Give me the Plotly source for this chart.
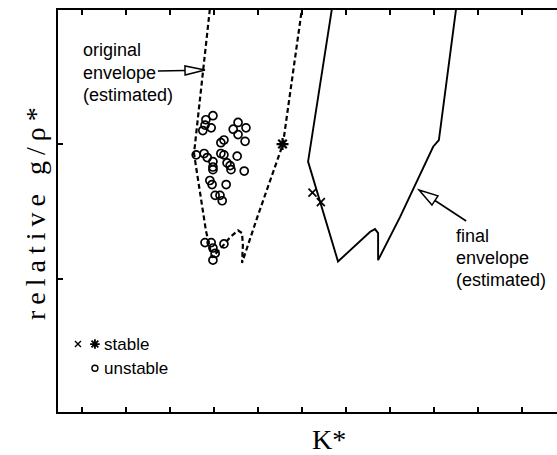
import plotly.graph_objects as go

# ---- data -------------------------------------------------------------
# original envelope (estimated), dashed
orig_k = [3.91, 3.55, 3.82, 3.96, 4.19, 4.37, 4.55, 4.64, 4.66, 4.64, 5.00, 5.57, 6.00]
orig_g = [3.00, 1.93, 1.36, 1.16, 1.24, 1.31, 1.36, 1.34, 1.25, 1.12, 1.47, 2.00, 3.00]

# final envelope (estimated), solid
final_k = [6.68, 6.14, 6.82, 7.55, 7.66, 7.73, 7.73, 8.23, 8.98, 9.11, 9.50]
final_g = [3.00, 1.87, 1.13, 1.35, 1.37, 1.34, 1.14, 1.46, 1.98, 2.03, 3.00]

# stable runs
stable_x_k = [6.24, 6.43]
stable_x_g = [1.64, 1.57]
stable_star_k = [5.56]
stable_star_g = [2.00]

# unstable runs
unstable_k = [3.98, 3.82, 3.80, 3.94, 3.75,
              4.55, 4.44, 4.73, 4.55, 4.71,
              4.23, 4.16, 3.60, 3.78, 3.85, 3.98, 4.16, 4.23, 4.30, 4.37,
              4.53, 4.39, 4.69, 3.98, 3.98, 3.91, 3.96, 4.28, 4.03, 4.14, 4.19,
              3.80, 3.94, 3.98, 4.03, 3.98, 4.23]
unstable_g = [2.21, 2.18, 2.14, 2.12, 2.10,
              2.16, 2.11, 2.12, 2.07, 2.02,
              2.03, 2.01, 1.92, 1.93, 1.90, 1.87, 1.93, 1.92, 1.86, 1.84,
              1.91, 1.81, 1.80, 1.83, 1.81, 1.73, 1.70, 1.70, 1.62, 1.62, 1.58,
              1.27, 1.27, 1.23, 1.19, 1.14, 1.26]

x_ticks = [1, 2, 3, 4, 5, 6, 7, 8, 9, 10, 11]
y_ticks = [1, 2]

# ---- layout constants --------------------------------------------------
W, H = 557, 455
ML, MR, MT, MB = 58, 0, 10, 43
X_RANGE = [0.462, 11.792]
Y_RANGE = [0.015, 2.993]
SX = (W - ML - MR) / (X_RANGE[1] - X_RANGE[0])   # px per K* unit
SY = (H - MT - MB) / (Y_RANGE[1] - Y_RANGE[0])   # px per g unit

SANS = "Liberation Sans, Arial, sans-serif"
SERIF = "Liberation Serif, Times New Roman, serif"

fig = go.Figure()

fig.add_trace(go.Scatter(x=orig_k, y=orig_g, mode="lines",
                         line=dict(color="black", width=2.2, dash="5px,3px"),
                         showlegend=False, hoverinfo="skip"))
fig.add_trace(go.Scatter(x=final_k, y=final_g, mode="lines",
                         line=dict(color="black", width=1.9),
                         showlegend=False, hoverinfo="skip"))
fig.add_trace(go.Scatter(x=unstable_k, y=unstable_g, mode="markers",
                         marker=dict(symbol="circle-open", size=8, color="black",
                                     line=dict(width=1.7, color="black")),
                         showlegend=False))
fig.add_trace(go.Scatter(x=stable_x_k, y=stable_x_g, mode="markers",
                         marker=dict(symbol="x-thin-open", size=8, color="black",
                                     line=dict(width=1.7, color="black")),
                         showlegend=False))
fig.add_trace(go.Scatter(x=stable_star_k, y=stable_star_g, mode="markers",
                         marker=dict(symbol="asterisk-open", size=10, color="black",
                                     line=dict(width=2.2, color="black")),
                         showlegend=False))

# legend keys on an overlay axis in [0,1] units
fig.add_trace(go.Scatter(x=[0.040], y=[0.169], mode="markers", xaxis="x2", yaxis="y2",
                         marker=dict(symbol="x-thin-open", size=6, color="black",
                                     line=dict(width=1.4, color="black")),
                         showlegend=False, hoverinfo="skip"))
fig.add_trace(go.Scatter(x=[0.074], y=[0.169], mode="markers", xaxis="x2", yaxis="y2",
                         marker=dict(symbol="asterisk-open", size=8, color="black",
                                     line=dict(width=1.8, color="black")),
                         showlegend=False, hoverinfo="skip"))
fig.add_trace(go.Scatter(x=[0.074], y=[0.109], mode="markers", xaxis="x2", yaxis="y2",
                         marker=dict(symbol="circle-open", size=6, color="black",
                                     line=dict(width=1.4, color="black")),
                         showlegend=False, hoverinfo="skip"))


def hollow_arrow(tail, tip, head_len=19, half_w=5):
    """Line with an open triangular head, in data coords, sized in pixels."""
    tx, ty = tail[0] * SX, tail[1] * SY
    hx, hy = tip[0] * SX, tip[1] * SY
    dx, dy = hx - tx, hy - ty
    n = (dx * dx + dy * dy) ** 0.5
    ux, uy = dx / n, dy / n
    bx, by = hx - head_len * ux, hy - head_len * uy
    px_, py_ = -uy, ux
    p1 = (bx + half_w * px_, by + half_w * py_)
    p2 = (bx - half_w * px_, by - half_w * py_)
    to_d = lambda p: (p[0] / SX, p[1] / SY)
    b = to_d((bx, by))
    a1, a2 = to_d(p1), to_d(p2)
    shapes = [
        dict(type="line", xref="x", yref="y", x0=tail[0], y0=tail[1], x1=b[0], y1=b[1],
             line=dict(color="black", width=1.6)),
        dict(type="path", xref="x", yref="y",
             path=f"M {tip[0]} {tip[1]} L {a1[0]} {a1[1]} L {a2[0]} {a2[1]} Z",
             fillcolor="white", line=dict(color="black", width=1.5)),
    ]
    return shapes


shapes = []
shapes += hollow_arrow((2.73, 2.541), (3.80, 2.548), head_len=20, half_w=4.5)
shapes += hollow_arrow((9.73, 1.430), (8.66, 1.659), head_len=19, half_w=5.5)


def px_to_paper(px, py):
    return (px - ML) / (W - ML - MR), (H - MB - py) / (H - MT - MB)


annotations = []


def text_at(txt, px, py, size=18, font=SANS, anchor="left", angle=0):
    x, y = px_to_paper(px, py)
    annotations.append(dict(text=txt, x=x, y=y, xref="paper", yref="paper",
                            xanchor=anchor, yanchor="middle", showarrow=False,
                            textangle=angle,
                            font=dict(family=font, size=size, color="black")))


for i, line in enumerate(["original", "envelope", "(estimated)"]):
    text_at(line, 81, 50 + i * 22.5)
for i, line in enumerate(["final", "envelope", "(estimated)"]):
    text_at(line, 454, 236 + i * 22)
text_at("stable", 102, 344, size=17)
text_at("unstable", 102, 368, size=17)

text_at("K*", 329, 440, size=28, font=SERIF, anchor="center")
text_at('<span style="letter-spacing:6px">relative g/ρ*</span>', 35, 211,
        size=28, font=SERIF, anchor="center", angle=-90)

fig.update_layout(
    width=W, height=H,
    margin=dict(l=ML, r=MR, t=MT, b=MB),
    paper_bgcolor="white", plot_bgcolor="white",
    showlegend=False,
    shapes=shapes,
    annotations=annotations,
    xaxis=dict(range=X_RANGE, showgrid=False, zeroline=False,
               showline=True, linecolor="black", linewidth=2, mirror="ticks",
               ticks="inside", ticklen=5, tickwidth=1.5, tickcolor="black",
               tickvals=x_ticks, showticklabels=False),
    yaxis=dict(range=Y_RANGE, showgrid=False, zeroline=False,
               showline=True, linecolor="black", linewidth=2, mirror=False,
               ticks="inside", ticklen=5, tickwidth=1.5, tickcolor="black",
               tickvals=y_ticks, showticklabels=False),
    xaxis2=dict(range=[0, 1], overlaying="x", visible=False),
    yaxis2=dict(range=[0, 1], overlaying="y", visible=False),
)

fig.write_html("out.html")
